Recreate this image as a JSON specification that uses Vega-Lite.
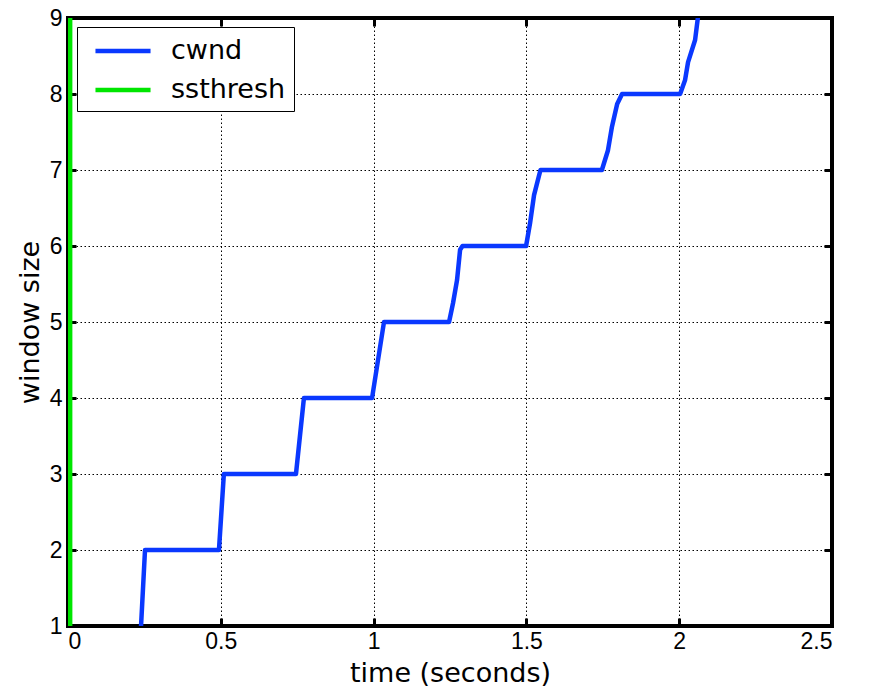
{
  "$schema": "https://vega.github.io/schema/vega-lite/v6.json",
  "width": 764,
  "height": 608,
  "autosize": "none",
  "padding": {"left": 68, "top": 18, "right": 45, "bottom": 73},
  "background": "white",
  "config": {
    "view": {"stroke": "black", "strokeWidth": 4},
    "axis": {
      "domain": false,
      "labelFont": "Liberation Sans",
      "labelFontSize": 23,
      "labelColor": "black",
      "tickColor": "black",
      "tickWidth": 3,
      "tickSize": -8,
      "titleFont": "DejaVu Sans",
      "titleFontSize": 27,
      "titleFontWeight": "normal",
      "titleColor": "black",
      "gridColor": "black",
      "gridOpacity": 1,
      "gridWidth": 1,
      "gridDash": [1.5, 2.5]
    },
    "legend": {
      "labelFont": "DejaVu Sans",
      "labelFontSize": 27,
      "labelColor": "black"
    }
  },
  "data": {
    "values": [
      {"t": 0.007, "w": 1, "series": "ssthresh"},
      {"t": 0.007, "w": 9.2, "series": "ssthresh"},
      {"t": 0.239, "w": 1, "series": "cwnd"},
      {"t": 0.252, "w": 2, "series": "cwnd"},
      {"t": 0.494, "w": 2, "series": "cwnd"},
      {"t": 0.510, "w": 3, "series": "cwnd"},
      {"t": 0.746, "w": 3, "series": "cwnd"},
      {"t": 0.772, "w": 4, "series": "cwnd"},
      {"t": 0.995, "w": 4, "series": "cwnd"},
      {"t": 1.034, "w": 5, "series": "cwnd"},
      {"t": 1.247, "w": 5, "series": "cwnd"},
      {"t": 1.260, "w": 5.25, "series": "cwnd"},
      {"t": 1.273, "w": 5.55, "series": "cwnd"},
      {"t": 1.283, "w": 5.95, "series": "cwnd"},
      {"t": 1.291, "w": 6, "series": "cwnd"},
      {"t": 1.499, "w": 6, "series": "cwnd"},
      {"t": 1.512, "w": 6.3, "series": "cwnd"},
      {"t": 1.525, "w": 6.67, "series": "cwnd"},
      {"t": 1.546, "w": 7, "series": "cwnd"},
      {"t": 1.747, "w": 7, "series": "cwnd"},
      {"t": 1.767, "w": 7.26, "series": "cwnd"},
      {"t": 1.780, "w": 7.57, "series": "cwnd"},
      {"t": 1.797, "w": 7.87, "series": "cwnd"},
      {"t": 1.813, "w": 8, "series": "cwnd"},
      {"t": 2.003, "w": 8, "series": "cwnd"},
      {"t": 2.019, "w": 8.18, "series": "cwnd"},
      {"t": 2.029, "w": 8.42, "series": "cwnd"},
      {"t": 2.052, "w": 8.71, "series": "cwnd"},
      {"t": 2.061, "w": 9, "series": "cwnd"},
      {"t": 2.068, "w": 9.3, "series": "cwnd"}
    ]
  },
  "layer": [
    {
      "mark": {"type": "line", "strokeWidth": 4.5, "clip": true, "strokeJoin": "round"},
      "encoding": {
        "x": {
          "field": "t", "type": "quantitative",
          "scale": {"domain": [0, 2.5], "nice": false, "zero": false},
          "axis": {"values": [0, 0.5, 1, 1.5, 2, 2.5], "format": "~g", "title": "time (seconds)", "grid": true, "labelPadding": 12, "titlePadding": 7}
        },
        "y": {
          "field": "w", "type": "quantitative",
          "scale": {"domain": [1, 9], "nice": false, "zero": false},
          "axis": {"values": [1, 2, 3, 4, 5, 6, 7, 8, 9], "title": "window size", "grid": true, "labelPadding": 14, "titlePadding": 5}
        },
        "color": {
          "field": "series", "type": "nominal",
          "scale": {"domain": ["cwnd", "ssthresh"], "range": ["#0a38ff", "#00e600"]},
          "legend": {
            "title": null,
            "orient": "top-left",
            "offset": 9,
            "symbolType": "M-0.41,0H3.67",
            "symbolSize": 729,
            "symbolStrokeWidth": 4.5,
            "labelOffset": 54,
            "rowPadding": 10,
            "padding": 8,
            "strokeColor": "black",
            "fillColor": "white",
            "cornerRadius": 0
          }
        },
        "order": {"field": "t", "type": "quantitative"}
      }
    },
    {
      "mark": {"type": "line", "strokeOpacity": 0},
      "encoding": {
        "x": {"field": "t", "type": "quantitative", "axis": {"values": [0, 0.5, 1, 1.5, 2, 2.5], "labels": false, "title": null, "grid": false}},
        "y": {"field": "w", "type": "quantitative", "axis": {"values": [1, 2, 3, 4, 5, 6, 7, 8, 9], "labels": false, "title": null, "grid": false}},
        "detail": {"field": "series"}
      }
    }
  ],
  "resolve": {"axis": {"x": "independent", "y": "independent"}}
}
